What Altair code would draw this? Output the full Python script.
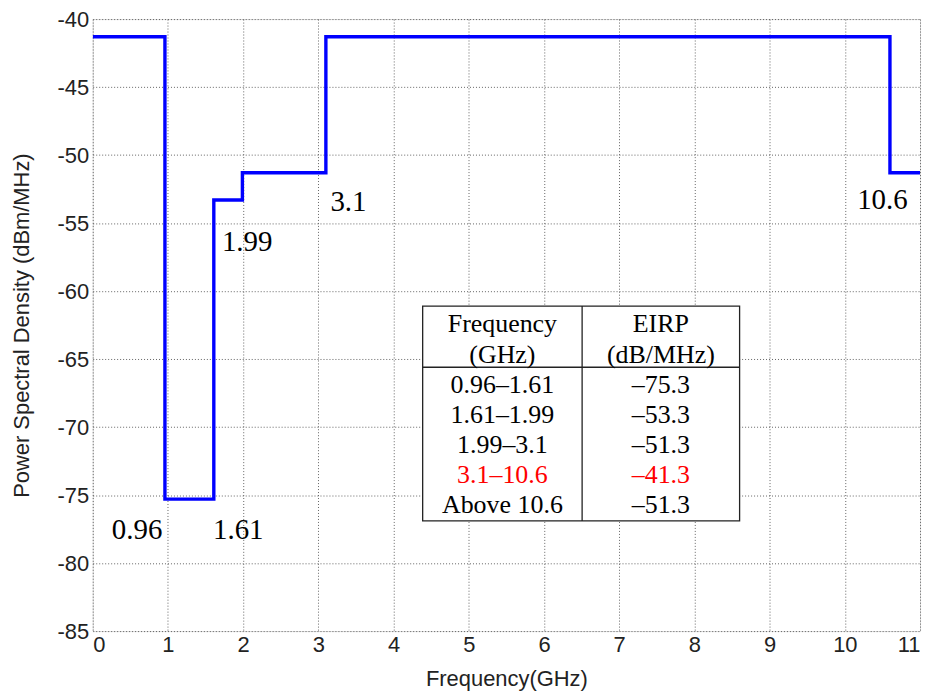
import altair as alt
import pandas as pd

# Step mask: band edges (GHz) and level (dBm/MHz) starting at each edge
edges = [0, 0.96, 1.61, 1.99, 3.1, 10.6, 11]
levels = [-41.3, -75.3, -53.3, -51.3, -41.3, -51.3, -51.3]

# Edge annotations
ann_text = ["0.96", "1.61", "1.99", "3.1", "10.6"]
ann_x = [0.59, 1.935, 2.054, 3.40, 10.50]
ann_y = [-77.6, -77.6, -56.4, -53.45, -53.3]

# Table contents
tab_freq = ["0.96\u20131.61", "1.61\u20131.99", "1.99\u20133.1", "3.1\u201310.6", "Above 10.6"]
tab_eirp = ["\u201375.3", "\u201353.3", "\u201351.3", "\u201341.3", "\u201351.3"]
tab_color = ["black", "black", "black", "red", "black"]
head_freq = ["Frequency", "(GHz)"]
head_eirp = ["EIRP", "(dB/MHz)"]

# table layout in data units
T_LEFT, T_MID, T_RIGHT = 4.387, 6.507, 8.601
T_TOP, T_HEAD, T_BOT = -61.1, -65.6, -76.9
ROW0, ROWSTEP = -66.9, -2.21
HEAD0, HEADSTEP = -62.4, -2.27
C1 = (T_LEFT + T_MID) / 2
C2 = (T_MID + T_RIGHT) / 2

step_df = pd.DataFrame({"f": edges, "p": levels})
ann_df = pd.DataFrame({"t": ann_text, "x": ann_x, "y": ann_y})

rows = []
for i, (a, b, c) in enumerate(zip(tab_freq, tab_eirp, tab_color)):
    y = ROW0 + i * ROWSTEP
    rows.append({"t": a, "x": C1, "y": y, "c": c})
    rows.append({"t": b, "x": C2, "y": y, "c": c})
for i, (a, b) in enumerate(zip(head_freq, head_eirp)):
    y = HEAD0 + i * HEADSTEP
    rows.append({"t": a, "x": C1, "y": y, "c": "black"})
    rows.append({"t": b, "x": C2, "y": y, "c": "black"})
tab_df = pd.DataFrame(rows)

xsc = alt.Scale(domain=[0, 11], nice=False, zero=False)
ysc = alt.Scale(domain=[-85, -40], nice=False, zero=False)

FS = 22
TFS = 22
xaxis = alt.Axis(values=list(range(0, 12)), title="Frequency(GHz)",
                 labelExpr="'' + datum.value",
                 grid=True, gridDash=[1, 2], gridColor="#555", gridOpacity=0.9,
                 tickSize=0, domain=False, labelFont="Liberation Sans", labelFontSize=FS,
                 labelColor="#222", labelPadding=3, titleFont="Liberation Sans",
                 titleFontSize=TFS, titleFontWeight="normal", titleColor="#222",
                 titleY=48, titleBaseline="middle")
yaxis = alt.Axis(values=list(range(-85, -39, 5)), title="Power Spectral Density (dBm/MHz)",
                 labelExpr="'' + datum.value",
                 grid=True, gridDash=[1, 2], gridColor="#555", gridOpacity=0.9,
                 tickSize=0, domain=False, labelFont="Liberation Sans", labelFontSize=FS,
                 labelColor="#222", labelPadding=4, titleFont="Liberation Sans",
                 titleFontSize=TFS, titleFontWeight="normal", titleColor="#222",
                 titleX=-71, titleBaseline="middle", titleAngle=-90)

line = alt.Chart(step_df).mark_line(color="#0000ff", strokeWidth=3.4,
                                    interpolate="step-after", clip=True).encode(
    x=alt.X("f:Q", scale=xsc, axis=xaxis),
    y=alt.Y("p:Q", scale=ysc, axis=yaxis),
)

ann = alt.Chart(ann_df).mark_text(font="Liberation Serif", fontSize=29, color="black",
                                  align="center", baseline="middle").encode(
    x=alt.X("x:Q", scale=xsc), y=alt.Y("y:Q", scale=ysc), text="t:N")

box_df = pd.DataFrame({"x": [T_LEFT], "x2": [T_RIGHT], "y": [T_TOP], "y2": [T_BOT]})
box = alt.Chart(box_df).mark_rect(fill="white", stroke="#222", strokeWidth=1.3).encode(
    x=alt.X("x:Q", scale=xsc), x2="x2:Q", y=alt.Y("y:Q", scale=ysc), y2="y2:Q")

vline_df = pd.DataFrame({"x": [T_MID], "y": [T_TOP], "y2": [T_BOT]})
vline = alt.Chart(vline_df).mark_rule(color="#222", strokeWidth=1.3).encode(
    x=alt.X("x:Q", scale=xsc), y=alt.Y("y:Q", scale=ysc), y2="y2:Q")
hline_df = pd.DataFrame({"x": [T_LEFT], "x2": [T_RIGHT], "y": [T_HEAD]})
hline = alt.Chart(hline_df).mark_rule(color="#222", strokeWidth=1.3).encode(
    x=alt.X("x:Q", scale=xsc), x2="x2:Q", y=alt.Y("y:Q", scale=ysc))

tab = alt.Chart(tab_df).mark_text(font="Liberation Serif", fontSize=26,
                                  align="center", baseline="middle").encode(
    x=alt.X("x:Q", scale=xsc), y=alt.Y("y:Q", scale=ysc), text="t:N",
    color=alt.Color("c:N", scale=None))

chart = alt.layer(line, ann, box, vline, hline, tab).properties(
    width=830, height=614,
    autosize=alt.AutoSizeParams(type="none"),
    padding={"left": 85, "top": 10, "right": 10, "bottom": 60},
).configure_view(stroke="#444", strokeWidth=1.3).configure(background="white")

chart.save("out.html", embed_options={"renderer": "svg", "actions": False})
